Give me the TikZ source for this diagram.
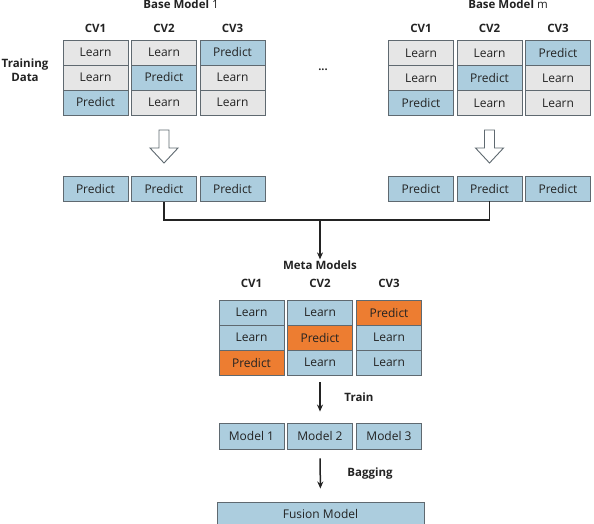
\documentclass[tikz,border=0pt]{standalone}
\usepackage{fontspec}
\setmainfont{Open Sans}
\usetikzlibrary{arrows.meta,positioning}
\definecolor{edge}{RGB}{95,105,112}
\definecolor{learnC}{RGB}{230,230,230}
\definecolor{predC}{RGB}{172,205,222}
\definecolor{hotC}{RGB}{237,125,49}
\definecolor{ink}{RGB}{35,35,35}
\tikzset{
  cell/.style={draw=edge,line width=0.9pt,minimum width=65pt,minimum height=25pt,
    inner sep=0pt,font=\fontsize{12}{14}\selectfont,text=ink},
  hdr/.style={font=\fontsize{11.5}{14}\selectfont\bfseries,text=ink,inner sep=1pt},
  arr/.style={-{Stealth[length=7pt,width=6pt]},line width=1.5pt,draw=ink},
  lnk/.style={line width=1.3pt,draw=ink},
  hollow/.pic={\draw[fill=white,draw=edge,line width=0.9pt]
    (-5,0) -- (-5,18) -- (-14,18) -- (0,33) -- (14,18) -- (5,18) -- (5,0) -- cycle;},
}

\begin{document}
\begin{tikzpicture}[x=1pt,y=-1pt]
\useasboundingbox[fill=white] (0,0) rectangle (594,524);

% base model 1
\node[hdr] (bm1) at (181,4) {Base Model \textmd{1}};
\node[hdr,align=center] (train) at (25,70) {Training\\Data};
\foreach \c/\x in {1/95.5,2/164,3/232.5}{
  \node[hdr] (lh\c) at (\x,28) {CV\c};
  \foreach \r/\y in {1/52.5,2/77.5,3/102.5}{
    \ifnum\r=\numexpr4-\c\relax \def\fc{predC}\def\tx{Predict}\else\def\fc{learnC}\def\tx{Learn}\fi
    \node[cell,fill=\fc] (l\c\r) at (\x,\y) {\tx};
  }
  \node[cell,fill=predC] (lp\c) at (\x,189) {Predict};
}

\node[font=\fontsize{11}{12}\selectfont\bfseries,text=ink] (dots) at (323,70) {...};

% base model m
\node[hdr] (bmm) at (508,4) {Base Model \textmd{m}};
\foreach \c/\x in {1/421,2/489.5,3/558}{
  \node[hdr] (rh\c) at (\x,28) {CV\c};
  \foreach \r/\y in {1/53,2/78,3/103}{
    \ifnum\r=\numexpr4-\c\relax \def\fc{predC}\def\tx{Predict}\else\def\fc{learnC}\def\tx{Learn}\fi
    \node[cell,fill=\fc] (r\c\r) at (\x,\y) {\tx};
  }
  \node[cell,fill=predC] (rp\c) at (\x,188.5) {Predict};
}

\pic at (164,130) {hollow};
\pic at (489.5,130) {hollow};

% merge
\coordinate (join) at (320,220);
\draw[lnk] (lp2.south) |- (join);
\draw[lnk] (rp2.south) |- (join);
\node[hdr] (meta) at (320,265) {Meta Models};
\draw[arr] (join) -- (meta.north);

% meta models
\foreach \c/\x in {1/251.5,2/320,3/389}{
  \node[hdr] (mh\c) at (\x,283) {CV\c};
  \foreach \r/\y in {1/312.5,2/337.5,3/362.5}{
    \ifnum\r=\numexpr4-\c\relax \def\fc{hotC}\def\tx{Predict}\else\def\fc{predC}\def\tx{Learn}\fi
    \node[cell,fill=\fc] (m\c\r) at (\x,\y) {\tx};
  }
  \node[cell,fill=predC,minimum height=26pt] (md\c) at (\x,436) {Model \c};
}

\draw[arr,shorten <=7pt,shorten >=11pt] (m23.south) -- (md2.north);
\node[hdr] (trn) at (359,397) {Train};

\node[cell,fill=predC,minimum width=207pt,minimum height=24pt] (fus) at (320.5,514) {Fusion Model};
\draw[arr,shorten <=9pt,shorten >=13pt] (md2.south) -- (fus.north);
\node[hdr] (bag) at (370,474) {Bagging};
\end{tikzpicture}
\end{document}
